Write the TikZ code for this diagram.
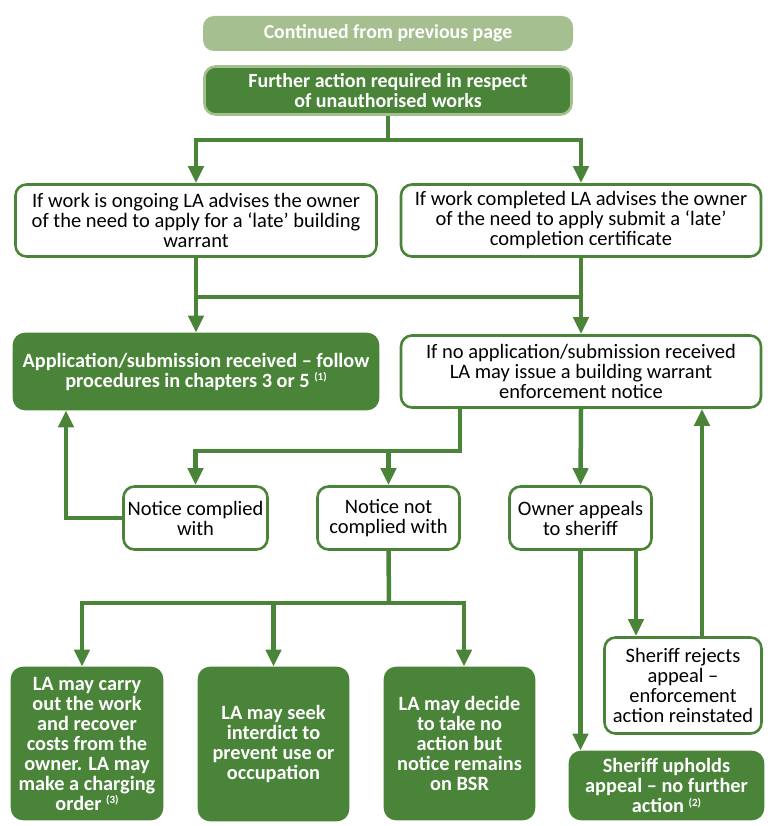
\documentclass[tikz,border=0pt]{standalone}
\usepackage{fontspec}
\setmainfont{Carlito}
\usetikzlibrary{arrows.meta}
\definecolor{dkgreen}{HTML}{4A8439}
\definecolor{ltgreen}{HTML}{A6BF90}
\newcommand{\nref}[1]{{\fontsize{11}{11}\selectfont\raisebox{6.5pt}{(#1)}}}
\tikzset{
  base/.style={rounded corners=11pt, line width=2.6pt, align=center, inner sep=0pt,
    font=\fontsize{20.5}{20}\selectfont},
  whitebox/.style={base, draw=dkgreen, fill=white, text=black},
  darkbox/.style={base, draw=dkgreen, fill=dkgreen, text=white, font=\fontsize{20.3}{20}\selectfont\bfseries},
  conn/.style={draw=dkgreen, line width=4.5pt},
  arr/.style={conn, -{Triangle[width=15pt,length=17pt]}},
}
\begin{document}
\begin{tikzpicture}[x=1pt,y=-1pt]
\useasboundingbox (0,0) rectangle (783,826);
% top boxes
\node[base, draw=none, fill=ltgreen, text=white, font=\fontsize{19.8}{20}\selectfont\bfseries,
  minimum width=370pt, minimum height=35pt] (cont) at (388,33.5) {Continued from previous page};
\node[base, draw=ltgreen, fill=dkgreen, text=white, font=\fontsize{20}{20.5}\selectfont\bfseries,
  minimum width=367pt, minimum height=48pt] (further) at (388,90.5)
  {Further action required in respect\\of unauthorised works};
% level 1
\node[whitebox, minimum width=361pt, minimum height=72pt] (L1) at (196,220.5)
  {If work is ongoing LA advises the owner\\of the need to apply for a ‘late’ building\\warrant};
\node[whitebox, minimum width=360pt, minimum height=72pt] (R1) at (581,220.5)
  {If work completed LA advises the owner\\of the need to apply submit a ‘late’\\completion certificate};
% level 2
\node[darkbox, minimum width=364pt, minimum height=75pt] (L2) at (196,371.5)
  {Application/submission received – follow\\procedures in chapters 3 or 5 \nref{1}};
\node[whitebox, minimum width=360pt, minimum height=72pt] (R2) at (581,371.5)
  {If no application/submission received\\LA may issue a building warrant\\enforcement notice};
% level 3
\node[whitebox, minimum width=144pt, minimum height=63pt] (NC) at (195.5,518)
  {Notice complied\\with};
\node[whitebox, minimum width=142pt, minimum height=63pt] (NN) at (388.5,518)
  {Notice not\\complied with};
\node[whitebox, minimum width=142pt, minimum height=63pt] (OA) at (580.5,518)
  {Owner appeals\\to sheriff};
% bottom
\node[darkbox, minimum width=150pt, minimum height=151pt] (B1) at (87,743.5)
  {LA may carry\\out the work\\and recover\\costs from the\\owner. LA may\\make a charging\\order \nref{3}};
\node[darkbox, minimum width=149pt, minimum height=152pt] (B2) at (273.5,744)
  {LA may seek\\interdict to\\prevent use or\\occupation};
\node[darkbox, minimum width=149pt, minimum height=151pt] (B3) at (459.5,743.5)
  {LA may decide\\to take no\\action but\\notice remains\\on BSR};
\node[whitebox, minimum width=157pt, minimum height=96pt] (SR) at (683,685.5)
  {Sheriff rejects\\appeal –\\enforcement\\action reinstated};
\node[darkbox, minimum width=193pt, minimum height=67pt] (SU) at (666.5,785.5)
  {Sheriff upholds\\appeal – no further\\action \nref{2}};
% coordinates
\coordinate (j1) at (388,140);
\coordinate (j2) at (196,297);
\coordinate (j3) at (581,297);
\coordinate (j4) at (460,451);
\coordinate (j5) at (66,518);
\coordinate (j6) at (389,603);
\coordinate (xb1) at (82,603);
\coordinate (xb3) at (464,603);
\coordinate (xsr) at (636,0);
\coordinate (xup) at (702,0);
% connectors
\draw[arr] (further.south) -- (j1) -| (L1.north);
\draw[arr] (j1) -| (R1.north);
\draw[conn] (L1.south) -- (j2);
\draw[conn] (R1.south) -- (j3);
\draw[conn] ([xshift=-2.25pt]j2) -- ([xshift=2.25pt]j3);
\draw[arr] (j2) -- (L2.north);
\draw[arr] (j3) -- (R2.north);
\draw[arr] (R2.south -| j4) -- (j4) -| (NC.north);
\draw[arr] (NN.north |- j4) -- (NN.north);
\draw[arr] (R2.south) -- (OA.north);
\draw[arr] (NC.west) -- (j5) -- (j5 |- L2.south);
\draw[conn] (NN.south) -- (j6);
\draw[conn] ([xshift=-2.25pt]xb1) -- ([xshift=2.25pt]xb3);
\draw[arr] (xb1) -- (xb1 |- B1.north);
\draw[arr] (j6 -| B2.north) -- (B2.north);
\draw[arr] (xb3) -- (xb3 |- B3.north);
\draw[arr] (OA.south) -- (OA.south |- SU.north);
\draw[arr] (xsr |- OA.south) -- (xsr |- SR.north);
\draw[arr] (xup |- SR.north) -- (xup |- R2.south);
\end{tikzpicture}
\end{document}
